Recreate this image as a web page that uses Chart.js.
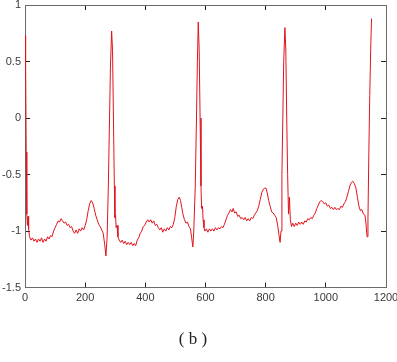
<!DOCTYPE html>
<html>
<head>
<meta charset="utf-8">
<script src="https://cdn.jsdelivr.net/npm/chart.js@4/dist/chart.umd.min.js"></script>
<style>
  html, body { margin: 0; padding: 0; background: #fff; }
  #wrap { width: 397px; height: 362px; }
</style>
</head>
<body>
<div id="wrap"><canvas id="ecg"></canvas></div>
<script>
// sample index (x) and amplitude (y)
const SAMPLES = [
  0, 2, 4, 6, 8, 10, 12, 15, 20, 25, 30, 35, 40, 45, 50, 55, 60, 65, 70, 75,
  80, 85, 90, 95, 100, 105, 110, 115, 120, 125, 130, 135, 140, 145, 150, 155,
  160, 165, 170, 175, 180, 185, 190, 195, 200, 205, 210, 215, 220, 225, 230,
  235, 240, 245, 250, 255, 260, 265, 269, 273, 277, 281, 284, 288, 291, 294,
  297, 299, 301, 303, 306, 309, 313, 318, 323, 328, 333, 338, 343, 348, 353,
  358, 363, 368, 373, 378, 383, 388, 393, 398, 403, 408, 413, 418, 423, 428,
  433, 438, 443, 448, 453, 458, 463, 468, 473, 478, 483, 488, 493, 498, 503,
  508, 513, 517, 521, 525, 530, 535, 540, 545, 550, 554, 558, 561, 566, 570,
  573, 576, 579, 582, 585, 587, 590, 592, 595, 598, 603, 608, 613, 618, 623,
  628, 633, 638, 643, 648, 653, 658, 663, 668, 673, 678, 683, 688, 692, 697,
  702, 707, 712, 717, 722, 727, 732, 737, 742, 747, 752, 757, 762, 767, 772,
  777, 782, 787, 792, 797, 801, 805, 810, 815, 820, 825, 830, 835, 840, 844,
  848, 851, 854, 857, 860, 864, 867, 870, 873, 876, 879, 882, 886, 890, 895,
  900, 905, 910, 915, 920, 925, 930, 935, 940, 945, 950, 955, 960, 965, 970,
  975, 980, 985, 990, 995, 1000, 1005, 1010, 1015, 1020, 1025, 1030, 1035,
  1040, 1045, 1050, 1055, 1060, 1065, 1070, 1075, 1080, 1085, 1090, 1095,
  1100, 1105, 1110, 1115, 1120, 1125, 1130, 1133, 1137, 1140, 1143, 1146,
  1149, 1152
];
const AMPLITUDE = [
  0.73, 0.5, -0.3, -0.85, -0.95, -0.87, -0.98, -1.05, -1.08, -1.06, -1.09,
  -1.07, -1.1, -1.07, -1.09, -1.06, -1.1, -1.07, -1.09, -1.05, -1.07, -1.04,
  -1.05, -1.0, -0.97, -0.94, -0.91, -0.92, -0.89, -0.91, -0.93, -0.92, -0.95,
  -0.94, -0.97, -0.96, -1.0, -1.02, -0.99, -1.02, -0.98, -1.0, -0.97, -0.99,
  -0.95, -0.9, -0.82, -0.76, -0.73, -0.75, -0.8, -0.86, -0.9, -0.94, -0.96,
  -0.99, -1.02, -1.12, -1.22, -1.05, -0.6, 0.0, 0.45, 0.77, 0.6, 0.0, -0.6,
  -0.88, -0.86, -0.97, -0.95, -1.05, -1.08, -1.1, -1.08, -1.11, -1.09, -1.12,
  -1.1, -1.12, -1.1, -1.13, -1.11, -1.13, -1.08, -1.06, -1.02, -1.0, -0.96,
  -0.95, -0.92, -0.9, -0.92, -0.9, -0.93, -0.91, -0.95, -0.94, -0.97, -0.99,
  -0.97, -1.01, -0.98, -1.0, -0.97, -0.99, -0.96, -0.97, -0.94, -0.88, -0.78,
  -0.72, -0.7, -0.73, -0.79, -0.85, -0.9, -0.93, -0.92, -0.96, -0.98, -1.06,
  -1.14, -1.0, -0.6, 0.0, 0.5, 0.85, 0.6, 0.0, -0.6, -0.8, -0.78, -0.9,
  -0.97, -1.0, -0.98, -1.01, -0.98, -1.0, -0.98, -1.0, -0.97, -0.99, -0.97,
  -0.98, -0.96, -0.97, -0.94, -0.9, -0.86, -0.84, -0.81, -0.83, -0.8, -0.84,
  -0.83, -0.87, -0.86, -0.89, -0.88, -0.9, -0.88, -0.91, -0.89, -0.91, -0.88,
  -0.89, -0.86, -0.84, -0.82, -0.78, -0.72, -0.66, -0.63, -0.62, -0.62,
  -0.66, -0.73, -0.78, -0.83, -0.84, -0.86, -0.88, -0.95, -1.03, -1.1, -1.0,
  -0.5, 0.0, 0.5, 0.8, 0.6, 0.0, -0.5, -0.85, -0.7, -0.9, -0.96, -0.93,
  -0.96, -0.93, -0.95, -0.92, -0.94, -0.92, -0.94, -0.91, -0.92, -0.89, -0.9,
  -0.88, -0.89, -0.86, -0.84, -0.8, -0.77, -0.74, -0.73, -0.74, -0.76, -0.75,
  -0.78, -0.77, -0.8, -0.79, -0.81, -0.79, -0.81, -0.8, -0.81, -0.78, -0.79,
  -0.76, -0.74, -0.7, -0.65, -0.6, -0.57, -0.56, -0.58, -0.62, -0.7, -0.78,
  -0.82, -0.81, -0.85, -0.86, -0.92, -1.05, -0.9, -0.3, 0.2, 0.6, 0.88
];

const X_MIN = 0;
const X_MAX = 1200;
const X_STEP = 200;
const Y_MIN = -1.5;
const Y_MAX = 1;
const Y_STEP = 0.5;
const CAPTION = "( b )";

const AXIS_COLOR = "#6b6b6b";
const TEXT_COLOR = "#3a3a3a";

const points = SAMPLES.map((x, i) => ({ x, y: AMPLITUDE[i] }));

function axis(position, showLabels, min, max, step) {
  return {
    type: "linear",
    position,
    min,
    max,
    grid: {
      drawOnChartArea: false,
      drawTicks: true,
      tickLength: -5,
      tickColor: "#222",
    },
    border: { display: true, color: AXIS_COLOR, width: 1 },
    ticks: {
      display: showLabels,
      stepSize: step,
      padding: 9,
      color: TEXT_COLOR,
      font: { family: "Liberation Sans", size: 11 },
      callback: (v) => String(v),
    },
  };
}

// pin the plot box, ignore label overhang like matlab does
function noPad(s) {
  s.paddingLeft = 0;
  s.paddingRight = 0;
  s.paddingTop = 0;
  s.paddingBottom = 0;
}

const xAxis = axis("bottom", true, X_MIN, X_MAX, X_STEP);
xAxis.afterFit = (s) => { s.height = 22; noPad(s); };
const xTop = axis("top", false, X_MIN, X_MAX, X_STEP);
xTop.afterFit = (s) => { s.height = 0; noPad(s); };
const yAxis = axis("left", true, Y_MIN, Y_MAX, Y_STEP);
yAxis.afterFit = (s) => { s.width = 25; noPad(s); };
const yRight = axis("right", false, Y_MIN, Y_MAX, Y_STEP);
yRight.afterFit = (s) => { s.width = 0; noPad(s); };

new Chart(document.getElementById("ecg"), {
  type: "line",
  data: {
    datasets: [
      {
        data: points,
        borderColor: "#e0141c",
        borderWidth: 1,
        pointRadius: 0,
        tension: 0,
        fill: false,
      },
    ],
  },
  options: {
    responsive: true,
    maintainAspectRatio: false,
    animation: false,
    layout: { padding: { top: 5, right: 11, left: 0, bottom: 12 } },
    plugins: {
      legend: { display: false },
      tooltip: { enabled: false },
      title: {
        display: true,
        position: "bottom",
        text: CAPTION,
        color: "#222",
        font: { family: "Liberation Serif", size: 17, weight: "normal" },
        padding: { top: 20, bottom: 0 },
      },
    },
    scales: {
      x: xAxis,
      x2: xTop,
      y: yAxis,
      y2: yRight,
    },
  },
});
</script>
</body>
</html>
